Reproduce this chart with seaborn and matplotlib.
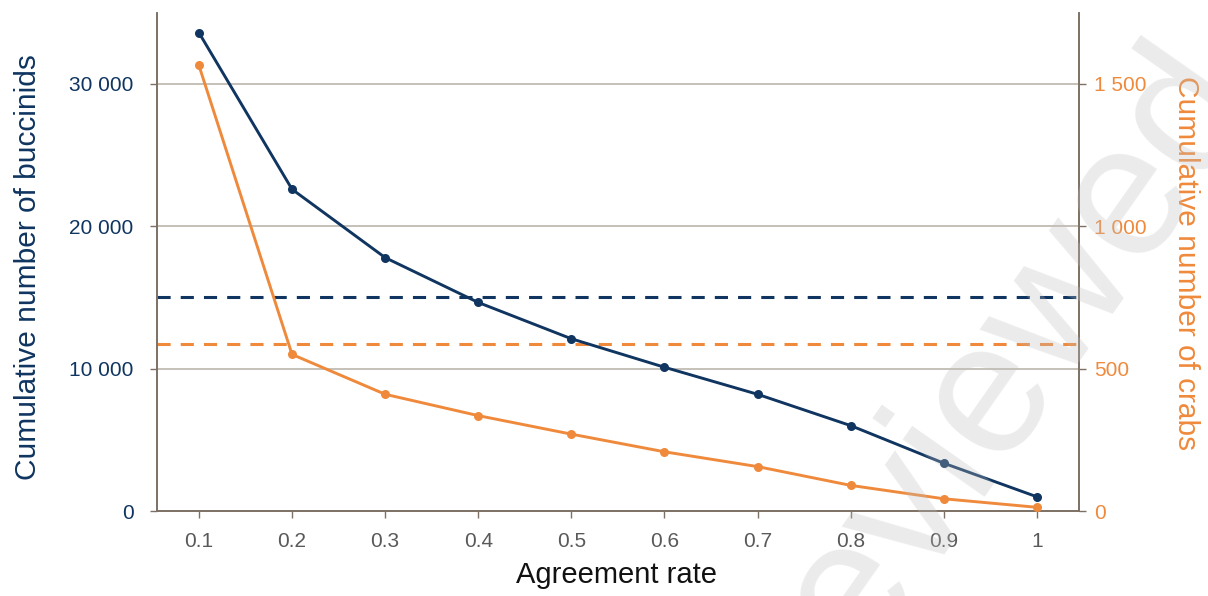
import numpy as np
import pandas as pd
import matplotlib
matplotlib.use("Agg")
import matplotlib.pyplot as plt
import matplotlib.transforms as mtransforms
import seaborn as sns

# Data
agreement_rate = [0.1, 0.2, 0.3, 0.4, 0.5, 0.6, 0.7, 0.8, 0.9, 1.0]
rate_labels = ["0.1", "0.2", "0.3", "0.4", "0.5", "0.6", "0.7", "0.8", "0.9", "1"]
buccinids = [33600, 22600, 17800, 14650, 12100, 10100, 8200, 6000, 3360, 1000]
crabs = [1565, 550, 410, 335, 270, 208, 156, 90, 43, 13]
buccinid_threshold = 15000
crab_threshold = 587

left_ticks = [0, 10000, 20000, 30000]
left_tick_labels = ["0", "10 000", "20 000", "30 000"]
right_ticks = [0, 500, 1000, 1500]
right_tick_labels = ["0", "500", "1 000", "1 500"]

NAVY = "#0f3560"
ORANGE = "#ef8a3c"
SPINE = "#7d7064"
GRID = "#bbb6ab"

sns.set_theme(style="white")
plt.rcParams["font.family"] = ["Liberation Sans", "DejaVu Sans"]

df = pd.DataFrame({"rate": agreement_rate, "buccinids": buccinids, "crabs": crabs})

fig = plt.figure(figsize=(12.08, 5.96), dpi=100)
ax = fig.add_axes([0.130, 0.1426, 0.763, 0.836])
ax2 = ax.twinx()

ax.set_xlim(0.055, 1.045)
ax.set_ylim(0, 35000)
ax2.set_ylim(0, 1750)

# Gridlines on the left scale
for v in left_ticks[1:]:
    ax.axhline(v, color=GRID, lw=1.2, zorder=0)

# Threshold lines (drawn beneath the series)
dash = dict(lw=2.2, linestyle=(0, (4.3, 3.3)), zorder=1)
ax.axhline(buccinid_threshold, color=NAVY, **dash)
blend = mtransforms.blended_transform_factory(ax.transAxes, ax2.transData)
ax.plot([0, 1], [crab_threshold, crab_threshold], transform=blend, color=ORANGE, **dash)

sns.lineplot(data=df, x="rate", y="buccinids", ax=ax, color=NAVY, lw=2.1,
             marker="o", markersize=6.5, markeredgewidth=0, zorder=3)
sns.lineplot(data=df, x="rate", y="crabs", ax=ax2, color=ORANGE, lw=2.1,
             marker="o", markersize=6.5, markeredgewidth=0, zorder=3)

ax.set_xticks(agreement_rate)
ax.set_xticklabels(rate_labels)
ax.set_yticks(left_ticks)
ax.set_yticklabels(left_tick_labels)
ax2.set_yticks(right_ticks)
ax2.set_yticklabels(right_tick_labels)

ax.tick_params(axis="x", bottom=True, length=5, width=1, color=SPINE,
               labelsize=15, labelcolor="#595959", pad=10)
ax.tick_params(axis="y", left=True, length=5, width=1, color=SPINE,
               labelsize=15, labelcolor=NAVY, pad=12)
ax2.tick_params(axis="y", right=True, length=5, width=1, color=SPINE,
                labelsize=15, labelcolor=ORANGE, pad=6)

for a in (ax, ax2):
    a.spines["top"].set_visible(False)
    for s in ("left", "right", "bottom"):
        a.spines[s].set_color(SPINE)
        a.spines[s].set_linewidth(1.2)

ax.set_xlabel("Agreement rate", fontsize=21, color="#111111")
ax.xaxis.set_label_coords(0.498, -0.100)
ax.set_ylabel("Cumulative number of buccinids", fontsize=21.5, color=NAVY)
ax.yaxis.set_label_coords(-0.125, 0.49)
ax2.set_ylabel("Cumulative number of crabs", fontsize=21.5, color=ORANGE,
               rotation=270, va="bottom", ha="center")
ax2.yaxis.set_label_coords(1.101, 0.498)

# Review-status watermark
fig.text(1.0436, 0.828, "Not peer-reviewed", fontsize=136,
         color="#bfbfbf", alpha=0.3, rotation=55, rotation_mode="anchor",
         ha="right", va="baseline", zorder=10)

fig.savefig("out.png", dpi=100)
